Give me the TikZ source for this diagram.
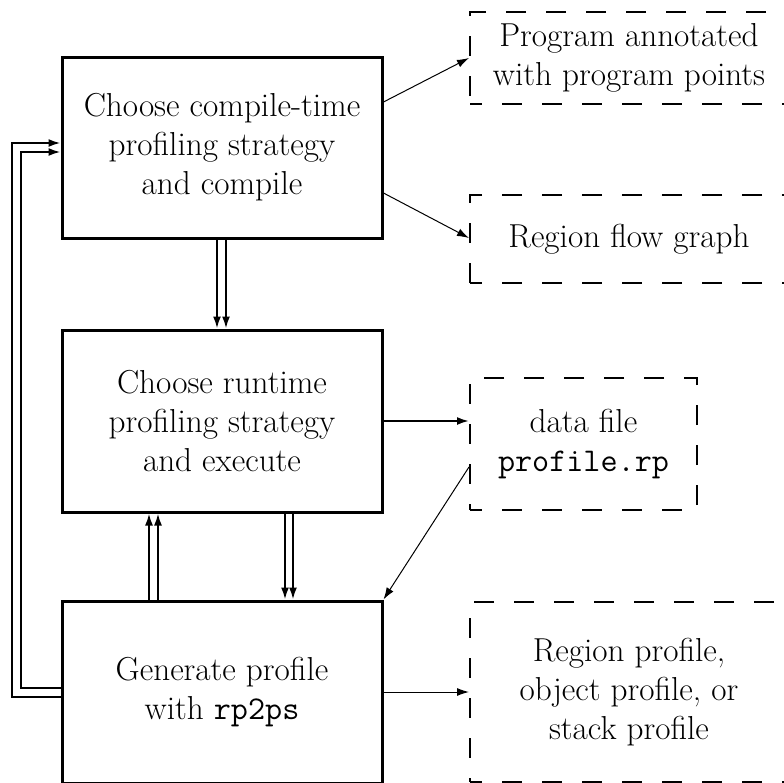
\documentclass[tikz,border=0pt]{standalone}
\usetikzlibrary{arrows.meta}
\begin{document}
\begin{tikzpicture}[x=0.5pt,y=-0.5pt,
	stepbox/.style={draw,line width=1.5pt,inner sep=0pt,align=center,font=\fontsize{16.6}{19.5}\selectfont},
	filebox/.style={draw,line width=1pt,dash pattern=on 10pt off 10pt,dash phase=4pt,inner sep=0pt,align=center,font=\fontsize{16.6}{19.5}\selectfont},
	flow/.style={-{Latex[length=6pt,width=4pt]},line width=1pt},
	thinflow/.style={-{Latex[length=6pt,width=4pt]},line width=0.5pt}]
	\useasboundingbox (0,0) rectangle (784,783);
	% steps
	\node[stepbox,minimum width=160pt,minimum height=90.5pt] (compile) at (222,147.5) {Choose compile-time\\profiling strategy\\and compile};
	\node[stepbox,minimum width=160pt,minimum height=91pt] (execute) at (222,421) {Choose runtime\\profiling strategy\\and execute};
	\node[stepbox,minimum width=160pt,minimum height=91pt] (generate) at (222,692) {Generate profile\\with \texttt{rp2ps}};
	% outputs
	\node[filebox,minimum width=159pt,minimum height=46pt] (annotated) at (629,58) {Program annotated\\with program points};
	\node[filebox,minimum width=159pt,minimum height=44pt] (flowgraph) at (629,239) {Region flow graph};
	\node[filebox,minimum width=113.5pt,minimum height=66pt] (datafile) at (583.5,444) {data file\\\texttt{profile.rp}};
	\node[filebox,minimum width=159pt,minimum height=90pt] (profile) at (629,692) {Region profile,\\object profile, or\\stack profile};
	% compile step
	\draw[thinflow] ([yshift=22.75pt]compile.east) -- (annotated.west);
	\draw[thinflow] ([yshift=-22.75pt]compile.east) -- ([yshift=0.5pt]flowgraph.west);
	\draw[flow] ([xshift=-2.5pt]compile.south) -- ([xshift=-2.5pt]execute.north);
	\draw[flow] ([xshift=2pt]compile.south) -- ([xshift=2pt]execute.north);
	% execute step
	\draw[flow] (execute.east) -- ([yshift=11.5pt]datafile.west);
	\draw[thinflow] ([yshift=-11.5pt]datafile.west) -- (generate.north east);
	\draw[flow] ([xshift=31.5pt]execute.south) -- ([xshift=31.5pt]generate.north);
	\draw[flow] ([xshift=35.5pt]execute.south) -- ([xshift=35.5pt]generate.north);
	% generate step
	\draw[flow] ([xshift=-36.5pt]generate.north) -- ([xshift=-36.5pt]execute.south);
	\draw[flow] ([xshift=-32pt]generate.north) -- ([xshift=-32pt]execute.south);
	\draw[thinflow] (generate.east) -- (profile.west);
	% back to compile
	\draw[flow] ([yshift=-2.5pt]generate.west) -- ++(-24.5pt,0) |- ([yshift=2.25pt]compile.west);
	\draw[flow] ([yshift=2pt]generate.west) -- ++(-20pt,0) |- ([yshift=-2.25pt]compile.west);
\end{tikzpicture}
\end{document}
